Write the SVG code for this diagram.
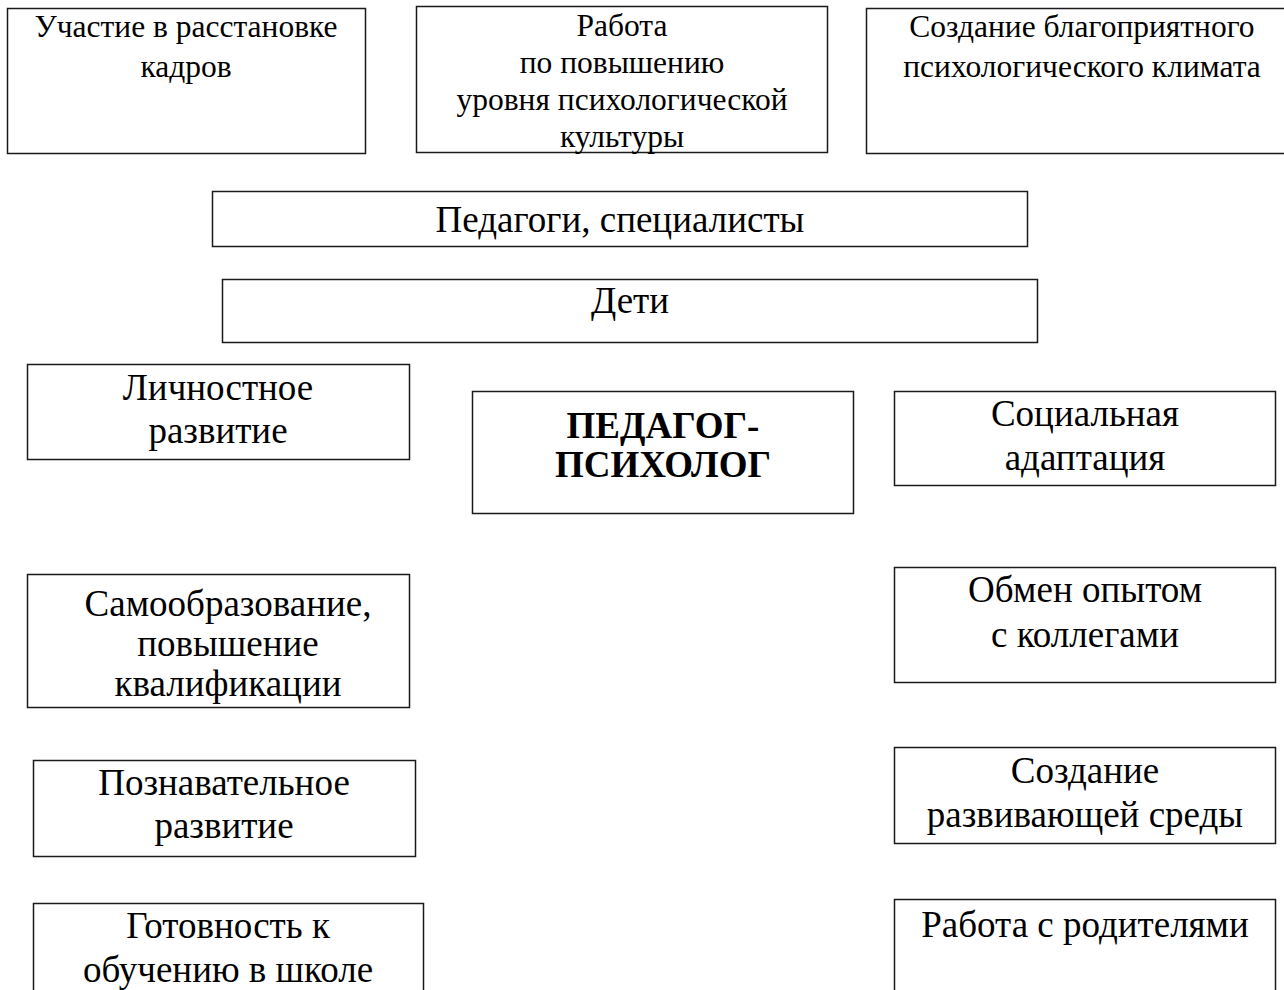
<svg xmlns="http://www.w3.org/2000/svg" width="1284" height="990" viewBox="0 0 1284 990">
<style>
rect{fill:#fff;stroke:#1a1a1a;stroke-width:1.5}
text{font-family:"Liberation Serif","Times New Roman",serif;fill:#000;text-anchor:middle}
.s{font-size:31.5px}
.m{font-size:37px}
.b{font-size:37px;font-weight:bold}
</style>
<rect x="0" y="0" width="1284" height="990" style="stroke:none"/>
<g id="connectors"/>
<g id="n1"><rect x="7.5" y="8.5" width="358" height="145"/>
<text class="s" x="186" y="37">Участие в расстановке</text>
<text class="s" x="186" y="77">кадров</text></g>
<g id="n2"><rect x="416.5" y="6.5" width="411" height="146"/>
<text class="s" x="622" y="36">Работа</text>
<text class="s" x="622" y="73">по повышению</text>
<text class="s" x="622" y="110">уровня психологической</text>
<text class="s" x="622" y="147">культуры</text></g>
<g id="n3"><rect x="866.5" y="8.5" width="432" height="145"/>
<text class="s" x="1082" y="37">Создание благоприятного</text>
<text class="s" x="1082" y="77">психологического климата</text></g>
<g id="n4"><rect x="212.5" y="191.5" width="815" height="55"/>
<text class="m" x="620" y="232">Педагоги, специалисты</text></g>
<g id="n5"><rect x="222.5" y="279.5" width="815" height="63"/>
<text class="m" x="630" y="313">Дети</text></g>
<g id="n6"><rect x="27.5" y="364.5" width="382" height="95"/>
<text class="m" x="218" y="400">Личностное</text>
<text class="m" x="218" y="443">развитие</text></g>
<g id="n7"><rect x="472.5" y="391.5" width="381" height="122"/>
<text class="b" x="663" y="438">ПЕДАГОГ-</text>
<text class="b" x="663" y="477">ПСИХОЛОГ</text></g>
<g id="n8"><rect x="894.5" y="391.5" width="381" height="94"/>
<text class="m" x="1085" y="426">Социальная</text>
<text class="m" x="1085" y="470">адаптация</text></g>
<g id="n9"><rect x="27.5" y="574.5" width="382" height="133"/>
<text class="m" x="228" y="616">Самообразование,</text>
<text class="m" x="228" y="656">повышение</text>
<text class="m" x="228" y="696">квалификации</text></g>
<g id="n10"><rect x="894.5" y="567.5" width="381" height="115"/>
<text class="m" x="1085" y="602">Обмен опытом</text>
<text class="m" x="1085" y="647">с коллегами</text></g>
<g id="n11"><rect x="33.5" y="760.5" width="382" height="96"/>
<text class="m" x="224" y="795">Познавательное</text>
<text class="m" x="224" y="838">развитие</text></g>
<g id="n12"><rect x="894.5" y="747.5" width="381" height="96"/>
<text class="m" x="1085" y="783">Создание</text>
<text class="m" x="1085" y="827">развивающей среды</text></g>
<g id="n13"><rect x="33.5" y="903.5" width="390" height="100"/>
<text class="m" x="228" y="938">Готовность к</text>
<text class="m" x="228" y="982">обучению в школе</text></g>
<g id="n14"><rect x="894.5" y="899.5" width="381" height="110"/>
<text class="m" x="1085" y="937">Работа с родителями</text></g>
</svg>
